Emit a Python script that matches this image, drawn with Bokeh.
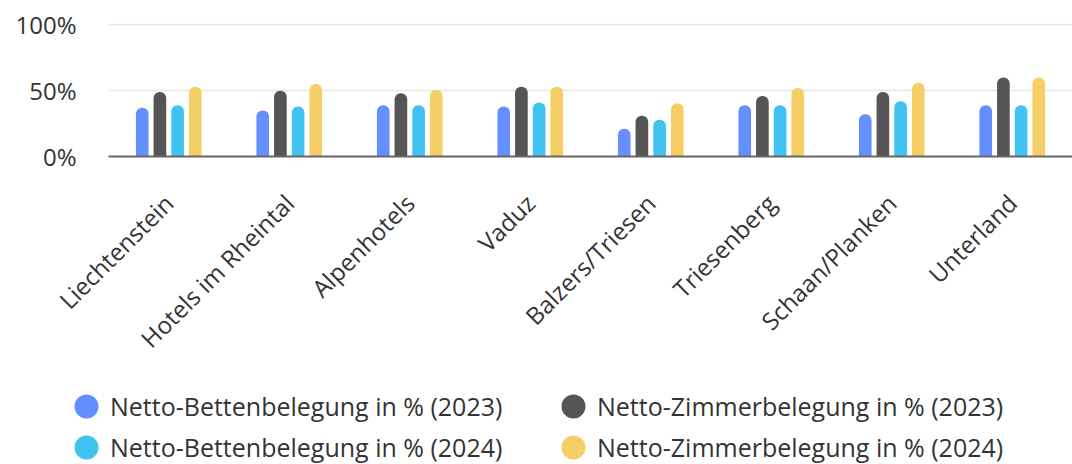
import math
from bokeh.plotting import figure
from bokeh.models import Range1d, FixedTicker, PrintfTickFormatter, Legend, LegendItem, ColumnDataSource
from bokeh.embed import file_html
from bokeh.resources import INLINE

categories = ["Liechtenstein", "Hotels im Rheintal", "Alpenhotels", "Vaduz",
              "Balzers/Triesen", "Triesenberg", "Schaan/Planken", "Unterland"]
bett_2023 = [37, 35, 39, 38, 21, 39, 32, 39]
zimmer_2023 = [49, 50, 48, 53, 31, 46, 49, 60]
bett_2024 = [39, 38, 39, 41, 28, 39, 42, 39]
zimmer_2024 = [53, 55, 50.5, 53, 40.5, 52, 56, 60]
series_names = ["Netto-Bettenbelegung in % (2023)", "Netto-Zimmerbelegung in % (2023)",
                "Netto-Bettenbelegung in % (2024)", "Netto-Zimmerbelegung in % (2024)"]
series_values = [bett_2023, zimmer_2023, bett_2024, zimmer_2024]
colors = ["#648FFF", "#555555", "#40C3F0", "#F5CF66"]
y_ticks = [0, 50, 100]

FONT = "Open Sans"
TXT = "#333333"

p = figure(width=1072, height=380, x_range=Range1d(-0.5, 7.5), y_range=Range1d(0, 101),
           output_backend="svg", toolbar_location=None,
           min_border_left=108, min_border_right=0, min_border_top=23, min_border_bottom=224)
p.outline_line_color = None
p.background_fill_color = "white"
p.border_fill_color = "white"

offsets = [-0.22, -0.0735, 0.0735, 0.22]
idx = list(range(len(categories)))
for vals, off, col in zip(series_values, offsets, colors):
    src = ColumnDataSource(dict(x=[i + off for i in idx], top=vals))
    p.vbar(x="x", top="top", bottom=0, width=0.105, source=src, fill_color=col,
           line_color=None, border_radius=(6, 6, 0, 0))

# axes
p.xaxis.ticker = FixedTicker(ticks=idx)
p.xaxis.major_label_overrides = {i: c for i, c in zip(idx, categories)}
p.xaxis.major_label_orientation = math.pi / 4
p.xaxis.major_label_text_font = FONT
p.xaxis.major_label_text_font_size = "24px"
p.xaxis.major_label_text_color = TXT
p.xaxis.major_label_standoff = 36
p.xaxis.major_tick_line_color = None
p.xaxis.minor_tick_line_color = None
p.xaxis.axis_line_color = "#666666"
p.xaxis.axis_line_width = 2

p.yaxis.ticker = FixedTicker(ticks=y_ticks)
p.yaxis.formatter = PrintfTickFormatter(format="%d%%")
p.yaxis.major_label_text_font = FONT
p.yaxis.major_label_text_font_size = "24px"
p.yaxis.major_label_text_color = TXT
p.yaxis.major_label_standoff = 26
p.yaxis.major_tick_line_color = None
p.yaxis.minor_tick_line_color = None
p.yaxis.axis_line_color = None

p.xgrid.grid_line_color = None
p.ygrid.grid_line_color = "#E6E6E6"
p.ygrid.grid_line_width = 1.5

# legend figure (circle swatches)
lg = figure(width=1072, height=84, x_range=Range1d(0, 1), y_range=Range1d(0, 1),
            x_axis_type=None, y_axis_type=None, output_backend="svg", toolbar_location=None,
            min_border=0, min_border_left=0, min_border_right=0, min_border_top=0,
            min_border_bottom=0)
lg.outline_line_color = None
proxies = []
for col in colors:
    r = lg.ellipse(x=[float("nan")], y=[float("nan")], width=24, height=24,
                   width_units="screen", height_units="screen", fill_color=col, line_color=None)
    proxies.append(r)

order = [0, 2, 1, 3]
items = [LegendItem(label=series_names[k], renderers=[proxies[k]]) for k in order]
legend = Legend(items=items, orientation="vertical", ncols=2, location=(71, 0),
                glyph_width=30, glyph_height=30, label_standoff=9, spacing=7,
                label_width=441, padding=0, margin=0, border_line_color=None,
                background_fill_alpha=0, label_text_font=FONT, label_text_font_size="25px",
                label_text_color=TXT)
lg.add_layout(legend, "center")

open("out.html", "w").write(file_html([p, lg], INLINE))
